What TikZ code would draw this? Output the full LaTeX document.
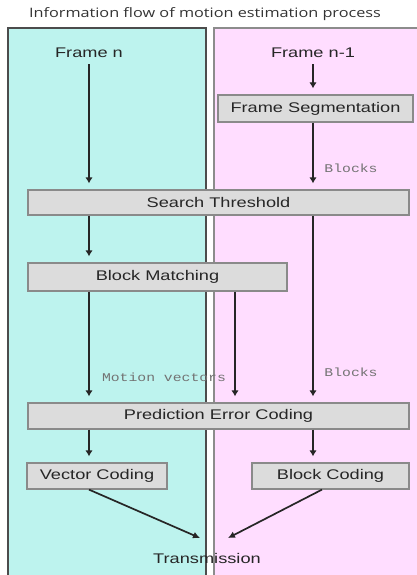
\documentclass[tikz,border=0pt]{standalone}
\usepackage{fontspec}
\setmainfont{Liberation Sans}[FakeStretch=1.3]
\newfontfamily\titlefont{Open Sans}[FakeStretch=1.25]
\newfontfamily\monolabel{Liberation Mono}[FakeStretch=1.25]
\usetikzlibrary{arrows.meta}
\definecolor{leftfill}{HTML}{BDF3EE}
\definecolor{rightfill}{HTML}{FFDDFF}
\definecolor{boxfill}{HTML}{DCDCDC}
\definecolor{boxline}{HTML}{8A8A8A}
\definecolor{txt}{HTML}{262626}
\tikzset{
  procbox/.style={draw=boxline, fill=boxfill, line width=1.2pt, text=txt,
    font=\fontsize{14}{16}\selectfont, inner sep=0pt, anchor=center},
  plain/.style={text=txt, font=\fontsize{14}{16}\selectfont, inner sep=0pt},
  flow/.style={draw=black!85, line width=2.6pt, shorten >=6pt, -{Latex[length=6pt,width=7.5pt]}},
  diag/.style={draw=black!85, line width=1.7pt, -{Latex[length=7pt,width=7pt]}},
  lbl/.style={text=black!55, font=\monolabel\fontsize{11.8}{13}\selectfont, inner sep=0pt}
}
\begin{document}
\begin{tikzpicture}[x=1pt,y=-1pt]
\useasboundingbox (0,0) rectangle (416,575);
% panels
\fill[leftfill] (8,28) rectangle (206,590);
\draw[draw=black!70, line width=2pt] (8,590) -- (8,28) -- (206,28) -- (206,590);
\fill[rightfill] (214,28) rectangle (430,590);
\draw[draw=black!45, line width=1.2pt] (214,590) -- (214,28) -- (430,28);
% title
\node[text=black!80, font=\titlefont\fontsize{13}{15}\selectfont, inner sep=0pt] (title) at (205,14) {Information flow of motion estimation process};
% nodes
\node[plain] (fn) at (89,53) {Frame n};
\node[plain] (fn1) at (313,53) {Frame n-1};
\node[procbox, minimum width=195pt, minimum height=27pt] (fs) at (315.5,108.5) {Frame Segmentation};
\node[procbox, minimum width=381pt, minimum height=25pt] (st) at (218.5,202.5) {Search Threshold};
\node[procbox, minimum width=259pt, minimum height=28pt] (bm) at (157.5,277) {Block Matching};
\node[procbox, minimum width=381pt, minimum height=26pt] (pec) at (218.5,416) {Prediction Error Coding};
\node[procbox, minimum width=140pt, minimum height=26pt] (vc) at (97,476) {Vector Coding};
\node[procbox, minimum width=157pt, minimum height=26pt] (bc) at (330.5,476) {Block Coding};
\node[plain] (tr) at (207,558) {Transmission};
\coordinate (midx) at (235,0);
\coordinate (bcx) at (322,0);
\coordinate (t1) at (200,538);
\coordinate (t2) at (228,538);
% connectors
\draw[flow, shorten <=6pt] (fn.south) -- (fn.south |- st.north);
\draw[flow, shorten <=6pt] (fn1.south) -- (fn1.south |- fs.north);
\draw[flow] (fs.south -| fn1) -- (st.north -| fn1);
\draw[flow] (st.south -| fn) -- (bm.north -| fn);
\draw[flow] (bm.south -| fn) -- (pec.north -| fn);
\draw[flow] (bm.south -| midx) -- (pec.north -| midx);
\draw[flow] (st.south -| fn1) -- (pec.north -| fn1);
\draw[flow] (pec.south -| fn) -- (vc.north -| fn);
\draw[flow] (pec.south -| fn1) -- (bc.north -| fn1);
\draw[diag] (vc.south -| fn) -- (t1);
\draw[diag] (bc.south -| bcx) -- (t2);
% labels
\node[lbl] (lb1) at (351,168) {Blocks};
\node[lbl] (lb2) at (164,377) {Motion vectors};
\node[lbl] (lb3) at (351,372) {Blocks};
\end{tikzpicture}
\end{document}
